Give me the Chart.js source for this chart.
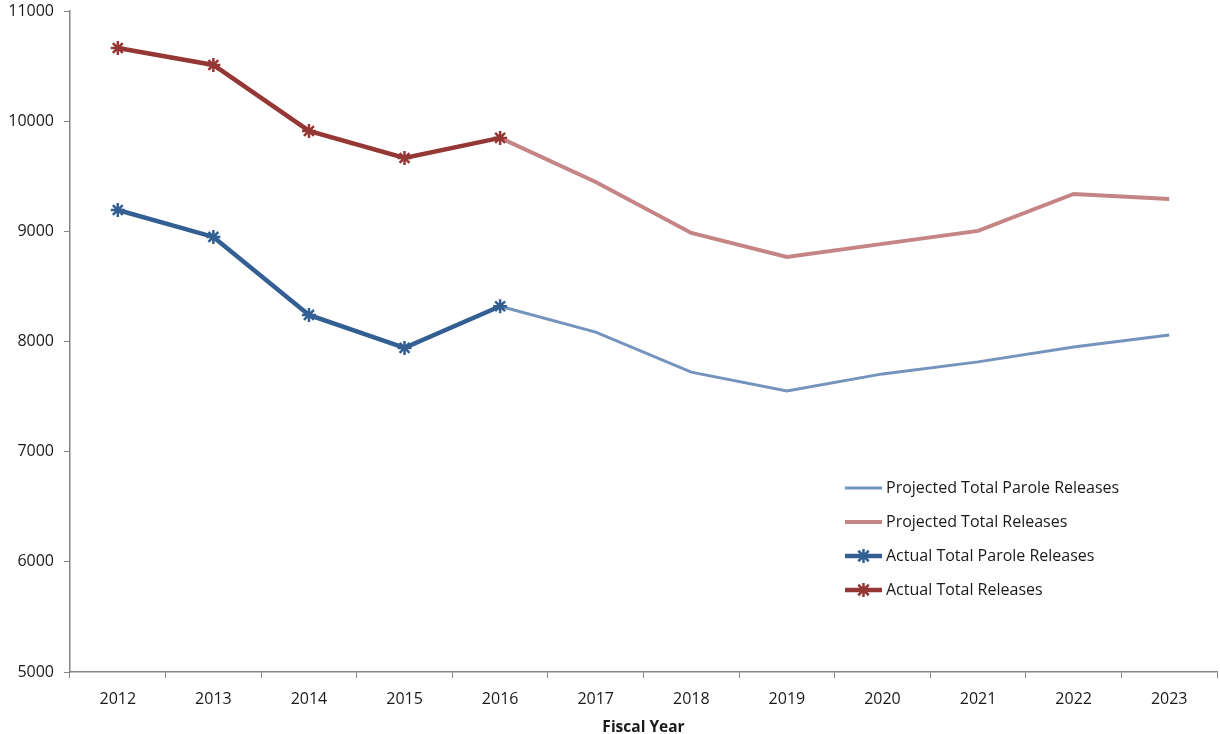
<!DOCTYPE html>
<html>
<head>
<meta charset="utf-8">
<script src="https://cdn.jsdelivr.net/npm/chart.js@4.4.0/dist/chart.umd.min.js"></script>
<style>
html,body{margin:0;padding:0;background:#fff;}
#wrap{width:1220px;height:734px;position:relative;}
</style>
</head>
<body>
<div id="wrap"><canvas id="c" width="1220" height="734"></canvas></div>
<script>
const years = ['2012','2013','2014','2015','2016','2017','2018','2019','2020','2021','2022','2023'];
const projectedParole = [null,null,null,null,8320,8085,7722,7552,7706,7815,7951,8058];
const projectedTotal  = [null,null,null,null,9848,9448,8985,8768,8886,9004,9339,9294];
const actualParole    = [9194,8949,8241,7942,8320,null,null,null,null,null,null,null];
const actualTotal     = [10664,10510,9911,9666,9848,null,null,null,null,null,null,null];
const yTicks = [5000,6000,7000,8000,9000,10000,11000];

const FONT = "'Open Sans', 'Liberation Sans', sans-serif";
const axisColor = '#868686';

function drawStar(ctx, x, y, r, color, w) {
  ctx.save();
  ctx.strokeStyle = color; ctx.lineWidth = w;
  ctx.beginPath();
  ctx.moveTo(x - r, y); ctx.lineTo(x + r, y);
  ctx.moveTo(x, y - r); ctx.lineTo(x, y + r);
  const d = r * 0.75;
  ctx.moveTo(x - d, y - d); ctx.lineTo(x + d, y + d);
  ctx.moveTo(x - d, y + d); ctx.lineTo(x + d, y - d);
  ctx.stroke();
  ctx.restore();
}

const legendPlugin = {
  id: 'customLegend',
  afterDraw(chart) {
    const ctx = chart.ctx;
    const x0 = 845, x1 = 882, tx = 886;
    const ys = [488, 522, 556, 590];
    ctx.save();
    chart.data.datasets.forEach((ds, i) => {
      const y = ys[i];
      ctx.strokeStyle = ds.borderColor;
      ctx.lineWidth = ds.borderWidth;
      ctx.beginPath(); ctx.moveTo(x0, y); ctx.lineTo(x1, y); ctx.stroke();
      if (ds.pointStyle === 'star') {
        drawStar(ctx, (x0 + x1) / 2, y, ds.pointRadius, ds.borderColor, ds.pointBorderWidth);
      }
      ctx.fillStyle = '#1a1a1a';
      ctx.font = '16px ' + FONT;
      ctx.textBaseline = 'middle';
      ctx.textAlign = 'left';
      ctx.fillText(ds.label, tx, y);
    });
    ctx.restore();
  }
};

const zeroPad = () => ({left:0, top:0, right:0, bottom:0});

new Chart(document.getElementById('c'), {
  type: 'line',
  data: {
    labels: years,
    datasets: [
      {label:'Projected Total Parole Releases', data: projectedParole, borderColor:'#7493BD', borderWidth:3, pointRadius:0, order:2},
      {label:'Projected Total Releases', data: projectedTotal, borderColor:'#C58585', borderWidth:4, pointRadius:0, order:2},
      {label:'Actual Total Parole Releases', data: actualParole, borderColor:'#345F92', backgroundColor:'#345F92', borderWidth:4.5,
        pointStyle:'star', pointRadius:7, pointBorderWidth:2.5, pointBorderColor:'#345F92', order:1},
      {label:'Actual Total Releases', data: actualTotal, borderColor:'#953735', backgroundColor:'#953735', borderWidth:4.5,
        pointStyle:'star', pointRadius:7, pointBorderWidth:2.5, pointBorderColor:'#953735', order:1}
    ]
  },
  options: {
    responsive:false,
    animation:false,
    spanGaps:false,
    layout:{autoPadding:false, padding:{top:11, right:3, left:0, bottom:0}},
    plugins:{legend:{display:false}, tooltip:{enabled:false}},
    scales:{
      x:{
        offset:true,
        grid:{display:true, drawOnChartArea:false, drawTicks:true, tickLength:6, color:axisColor, offset:true},
        border:{color:axisColor, width:1.5},
        ticks:{color:'#1a1a1a', font:{family:FONT, size:16}, padding:12, maxRotation:0},
        title:{display:true, text:'Fiscal Year', color:'#1a1a1a', font:{family:FONT, size:15.5, weight:'bold'}, padding:{top:0,bottom:-3}},
        afterFit(s){ s.height = 62; s.paddingLeft = 0; s.paddingRight = 0; s.getPadding = zeroPad; }
      },
      y:{
        min:5000, max:11000,
        afterBuildTicks(s){ s.ticks = yTicks.map(v=>({value:v})); },
        grid:{display:true, drawOnChartArea:false, drawTicks:true, tickLength:6, color:axisColor},
        border:{color:axisColor, width:1.5},
        ticks:{color:'#1a1a1a', font:{family:FONT, size:16}, padding:10, callback:(v)=>String(v)},
        afterFit(s){ s.width = 70; s.paddingTop = 0; s.paddingBottom = 0; s.getPadding = zeroPad; }
      }
    }
  },
  plugins:[legendPlugin]
});
</script>
</body>
</html>
